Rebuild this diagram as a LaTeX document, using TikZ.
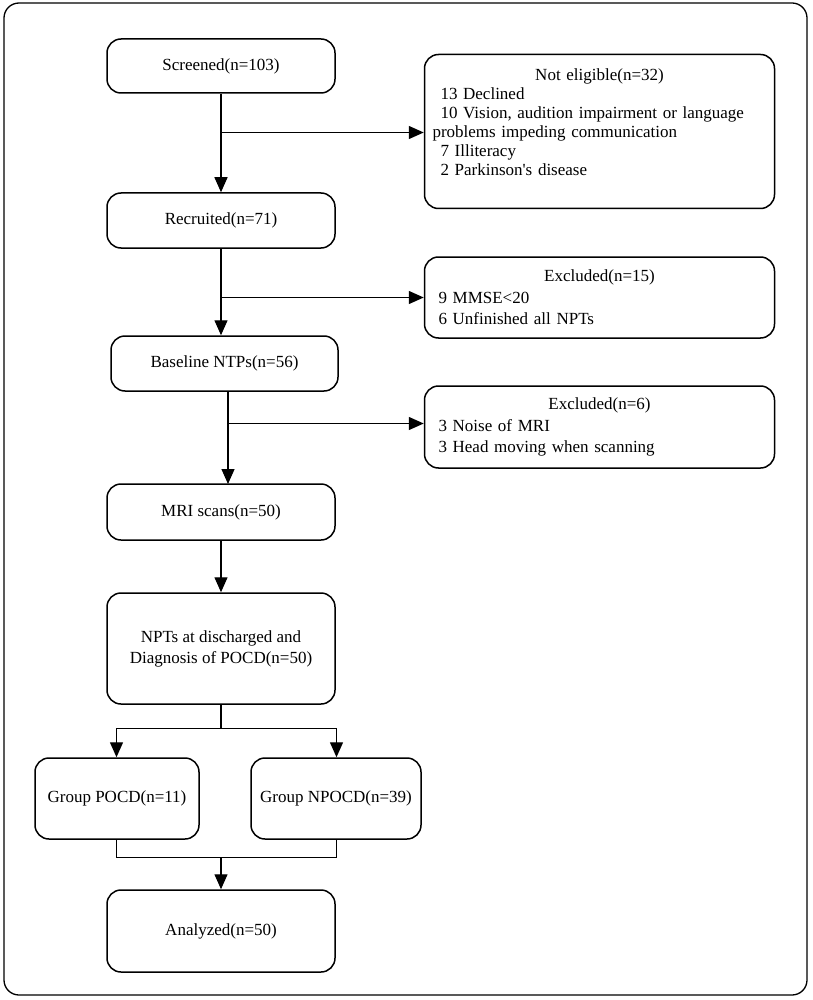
\documentclass[tikz,border=0pt]{standalone}
\usepackage{fontspec}
\setmainfont{Liberation Serif}
\usetikzlibrary{arrows.meta}
\begin{document}
\begin{tikzpicture}[x=1pt,y=-1pt,
  rbox/.style={draw, line width=1.5pt, rounded corners=14pt, align=center,
    font=\fontsize{17}{21}\selectfont, inner sep=0pt},
  sidebox/.style={rbox, minimum width=350pt, text width=334pt, align=left},
  conn/.style={line width=1.3pt},
  arr/.style={conn, -{Triangle[length=15pt,width=13pt]}}]
\useasboundingbox (0,0) rectangle (812,1000);
\draw[line width=1.3pt, rounded corners=15pt] (4,3) rectangle (807,995);

% main column
\node[rbox, minimum width=228pt, minimum height=54pt] (scr) at (221,66) {Screened(n=103)};
\node[rbox, minimum width=228pt, minimum height=55pt] (rec) at (221,220.5) {Recruited(n=71)};
\node[rbox, minimum width=227pt, minimum height=55pt] (base) at (224.5,363.5) {Baseline NTPs(n=56)};
\node[rbox, minimum width=228pt, minimum height=56pt] (mri) at (221,512) {MRI scans(n=50)};
\node[rbox, minimum width=228pt, minimum height=111pt] (npt) at (221,648.5) {NPTs at discharged and\\Diagnosis of POCD(n=50)};
\node[rbox, minimum width=164pt, minimum height=81pt] (gp) at (117,798.5) {Group POCD(n=11)};
\node[rbox, minimum width=170pt, minimum height=81pt] (gn) at (336,798.5) {Group NPOCD(n=39)};
\node[rbox, minimum width=228pt, minimum height=82pt] (ana) at (221,931) {Analyzed(n=50)};

% side boxes
\node[sidebox, minimum height=154pt, font=\fontsize{17}{19}\selectfont] (ne) at (599.5,131.5)
 {\makebox[334pt][c]{Not eligible(n=32)}\\
  \hspace*{8pt}13 Declined\\
  \hspace*{8pt}10 Vision, audition impairment or language\\
  problems impeding communication\\
  \hspace*{8pt}7 Illiteracy\\
  \hspace*{8pt}2 Parkinson\textquotesingle s disease\\[-2pt]\mbox{}\vspace*{2pt}};
\node[sidebox, minimum height=81pt, font=\fontsize{17}{21.5}\selectfont] (ex1) at (599.5,297.5)
 {\makebox[334pt][c]{Excluded(n=15)}\\
  \hspace*{6pt}9 MMSE<20\\
  \hspace*{6pt}6 Unfinished all NPTs};
\node[sidebox, minimum height=82pt, font=\fontsize{17}{21.5}\selectfont] (ex2) at (599.5,427)
 {\makebox[334pt][c]{Excluded(n=6)}\\
  \hspace*{6pt}3 Noise of MRI\\
  \hspace*{6pt}3 Head moving when scanning};

% junctions
\coordinate (j1) at (221,132.5);
\coordinate (j2) at (221,297.5);
\coordinate (b1) at (228,391);
\coordinate (j3) at (228,423.5);
\coordinate (b2) at (228,484);
\coordinate (j4) at (221,728.5);
\coordinate (j4l) at (116.5,728.5);
\coordinate (j4r) at (336.5,728.5);
\coordinate (j5l) at (116.5,857.5);
\coordinate (j5r) at (336.5,857.5);
\coordinate (j5) at (221,857.5);

\draw[arr] (scr.south) -- (rec.north);
\draw[arr] (j1) -- (ne.west |- j1);
\draw[arr] (rec.south) -- (rec.south |- base.north);
\draw[arr] (j2) -- (ex1.west |- j2);
\draw[arr] (b1) -- (b2);
\draw[arr] (j3) -- (ex2.west |- j3);
\draw[arr] (mri.south) -- (npt.north);
\draw[conn] (npt.south) -- (j4);
\draw[arr] (j4) -- (j4l) -- (j4l |- gp.north);
\draw[arr] (j4) -- (j4r) -- (j4r |- gn.north);
\draw[conn] (j5l |- gp.south) -- (j5l) -- (j5r) -- (j5r |- gn.south);
\draw[arr] (j5) -- (ana.north);
\end{tikzpicture}
\end{document}
